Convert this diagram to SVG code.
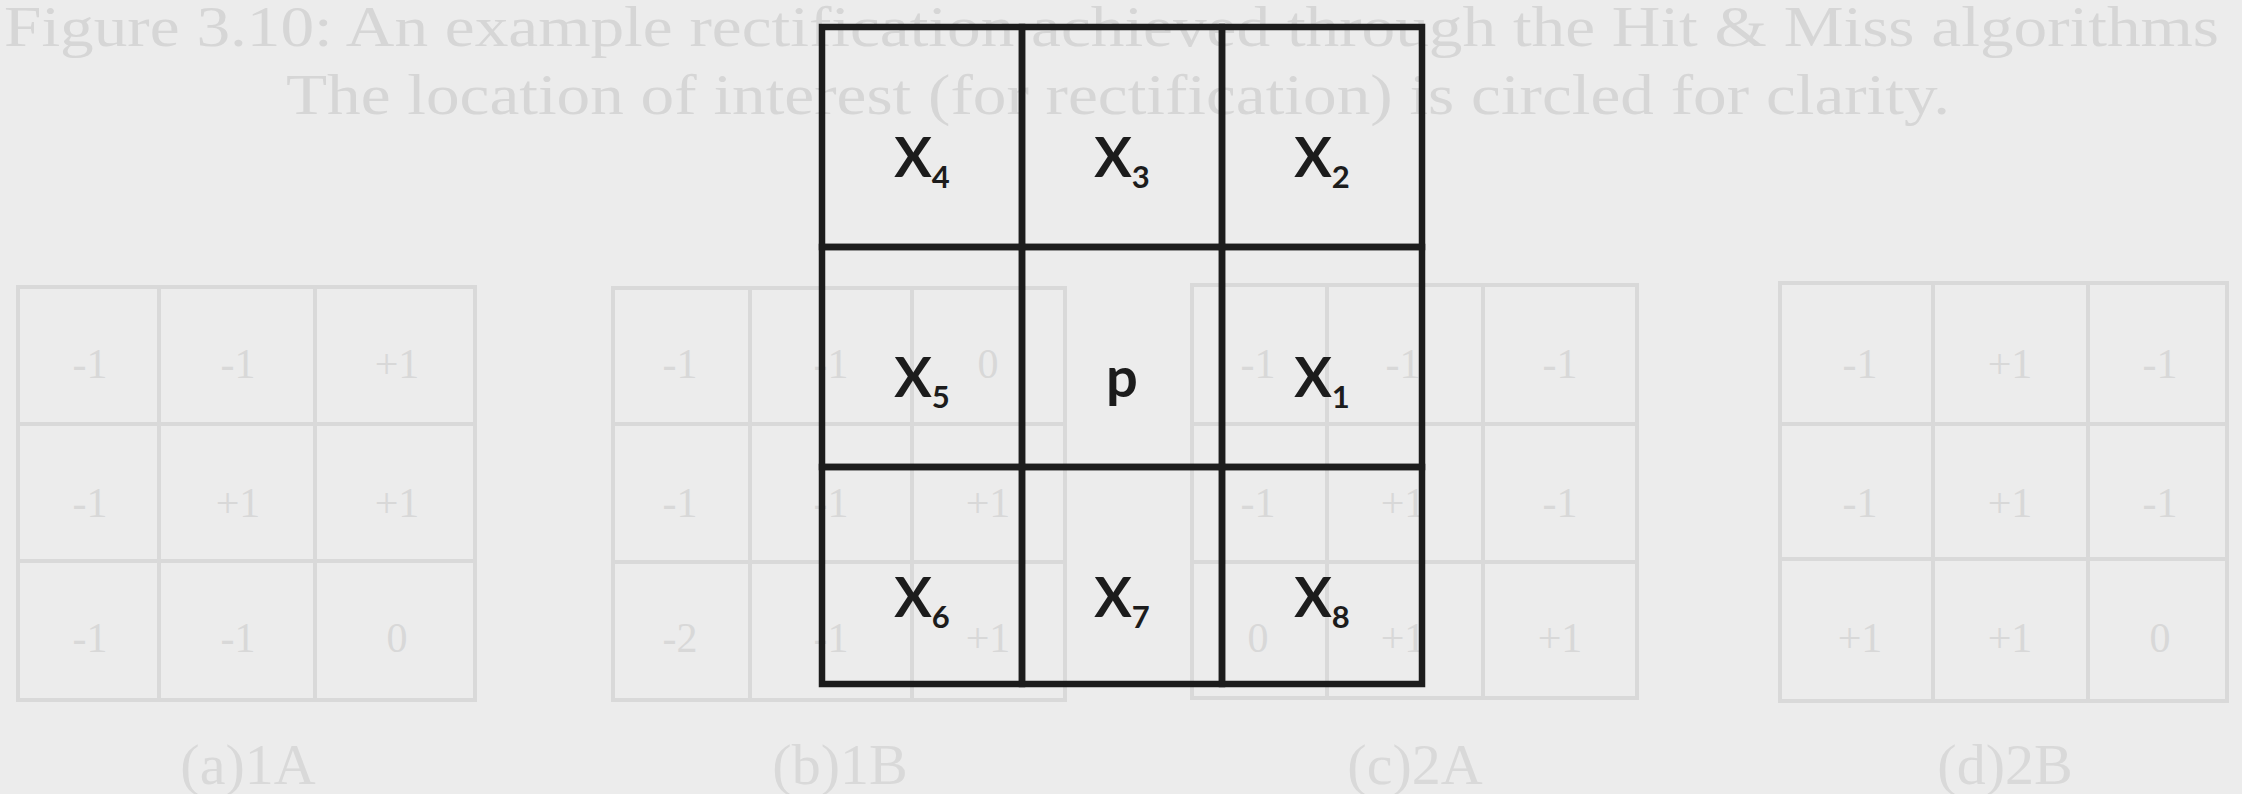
<svg xmlns="http://www.w3.org/2000/svg" width="2242" height="794" viewBox="0 0 2242 794">
  <style>
    .bg { fill: #ececec; }
    .cap { font-family: "Liberation Serif", serif; font-size: 56px; fill: #d6d6d6; }
    .fgrid { fill: none; stroke: #d9d9d9; stroke-width: 4; }
    .fnum { font-family: "Liberation Serif", serif; font-size: 42px; fill: #d8d8d8; text-anchor: middle; }
    .fcap { font-family: "Liberation Serif", serif; font-size: 58px; fill: #d9d9d9; text-anchor: middle; }
    .cell { fill: none; stroke: #1c1c1c; stroke-width: 6.5; }
    .lbl { font-family: Lato, "Open Sans", "Liberation Sans", sans-serif; font-weight: bold; font-size: 56px; fill: #1c1c1c; text-anchor: middle; }
    .sub { font-size: 31px; }
  </style>
  <rect class="bg" x="0" y="0" width="2242" height="794"/>

  <g id="faded-background">
    <text class="cap" x="4" y="46" textLength="2215" lengthAdjust="spacingAndGlyphs">Figure 3.10: An example rectification achieved through the Hit &amp; Miss algorithms</text>
    <text class="cap" x="286" y="114" textLength="1664" lengthAdjust="spacingAndGlyphs">The location of interest (for rectification) is circled for clarity.</text>

    <g id="grid-a">
      <rect class="fgrid" x="18" y="287" width="457" height="413"/>
      <line class="fgrid" x1="159" y1="287" x2="159" y2="700"/>
      <line class="fgrid" x1="315" y1="287" x2="315" y2="700"/>
      <line class="fgrid" x1="18" y1="424" x2="475" y2="424"/>
      <line class="fgrid" x1="18" y1="561" x2="475" y2="561"/>
      <text class="fnum" x="90" y="378">-1</text><text class="fnum" x="238" y="378">-1</text><text class="fnum" x="397" y="378">+1</text>
      <text class="fnum" x="90" y="517">-1</text><text class="fnum" x="238" y="517">+1</text><text class="fnum" x="397" y="517">+1</text>
      <text class="fnum" x="90" y="652">-1</text><text class="fnum" x="238" y="652">-1</text><text class="fnum" x="397" y="652">0</text>
      <text class="fcap" x="248" y="784">(a)1A</text>
    </g>

    <g id="grid-b">
      <rect class="fgrid" x="613" y="288" width="452" height="412"/>
      <line class="fgrid" x1="750" y1="288" x2="750" y2="700"/>
      <line class="fgrid" x1="912" y1="288" x2="912" y2="700"/>
      <line class="fgrid" x1="613" y1="424" x2="1065" y2="424"/>
      <line class="fgrid" x1="613" y1="562" x2="1065" y2="562"/>
      <text class="fnum" x="680" y="378">-1</text><text class="fnum" x="831" y="378">-1</text><text class="fnum" x="988" y="378">0</text>
      <text class="fnum" x="680" y="517">-1</text><text class="fnum" x="831" y="517">-1</text><text class="fnum" x="988" y="517">+1</text>
      <text class="fnum" x="680" y="652">-2</text><text class="fnum" x="831" y="652">-1</text><text class="fnum" x="988" y="652">+1</text>
      <text class="fcap" x="840" y="784">(b)1B</text>
    </g>

    <g id="grid-c">
      <rect class="fgrid" x="1192" y="285" width="445" height="413"/>
      <line class="fgrid" x1="1327" y1="285" x2="1327" y2="698"/>
      <line class="fgrid" x1="1483" y1="285" x2="1483" y2="698"/>
      <line class="fgrid" x1="1192" y1="424" x2="1637" y2="424"/>
      <line class="fgrid" x1="1192" y1="562" x2="1637" y2="562"/>
      <text class="fnum" x="1258" y="378">-1</text><text class="fnum" x="1403" y="378">-1</text><text class="fnum" x="1560" y="378">-1</text>
      <text class="fnum" x="1258" y="517">-1</text><text class="fnum" x="1403" y="517">+1</text><text class="fnum" x="1560" y="517">-1</text>
      <text class="fnum" x="1258" y="652">0</text><text class="fnum" x="1403" y="652">+1</text><text class="fnum" x="1560" y="652">+1</text>
      <text class="fcap" x="1415" y="784">(c)2A</text>
    </g>

    <g id="grid-d">
      <rect class="fgrid" x="1780" y="283" width="447" height="418"/>
      <line class="fgrid" x1="1933" y1="283" x2="1933" y2="701"/>
      <line class="fgrid" x1="2088" y1="283" x2="2088" y2="701"/>
      <line class="fgrid" x1="1780" y1="424" x2="2227" y2="424"/>
      <line class="fgrid" x1="1780" y1="559" x2="2227" y2="559"/>
      <text class="fnum" x="1860" y="378">-1</text><text class="fnum" x="2010" y="378">+1</text><text class="fnum" x="2160" y="378">-1</text>
      <text class="fnum" x="1860" y="517">-1</text><text class="fnum" x="2010" y="517">+1</text><text class="fnum" x="2160" y="517">-1</text>
      <text class="fnum" x="1860" y="652">+1</text><text class="fnum" x="2010" y="652">+1</text><text class="fnum" x="2160" y="652">0</text>
      <text class="fcap" x="2005" y="784">(d)2B</text>
    </g>
  </g>

  <g id="connectors"></g>

  <g id="cell-x4"><rect class="cell" x="822" y="27" width="200" height="220"/><text class="lbl" x="922" y="177">X<tspan class="sub" dy="11">4</tspan></text></g>
  <g id="cell-x3"><rect class="cell" x="1022" y="27" width="200" height="220"/><text class="lbl" x="1122" y="177">X<tspan class="sub" dy="11">3</tspan></text></g>
  <g id="cell-x2"><rect class="cell" x="1222" y="27" width="200" height="220"/><text class="lbl" x="1322" y="177">X<tspan class="sub" dy="11">2</tspan></text></g>
  <g id="cell-x5"><rect class="cell" x="822" y="247" width="200" height="220"/><text class="lbl" x="922" y="397">X<tspan class="sub" dy="11">5</tspan></text></g>
  <g id="cell-p"><rect class="cell" x="1022" y="247" width="200" height="220"/><text class="lbl" x="1122" y="397">p</text></g>
  <g id="cell-x1"><rect class="cell" x="1222" y="247" width="200" height="220"/><text class="lbl" x="1322" y="397">X<tspan class="sub" dy="11">1</tspan></text></g>
  <g id="cell-x6"><rect class="cell" x="822" y="467" width="200" height="217"/><text class="lbl" x="922" y="617">X<tspan class="sub" dy="11">6</tspan></text></g>
  <g id="cell-x7"><rect class="cell" x="1022" y="467" width="200" height="217"/><text class="lbl" x="1122" y="617">X<tspan class="sub" dy="11">7</tspan></text></g>
  <g id="cell-x8"><rect class="cell" x="1222" y="467" width="200" height="217"/><text class="lbl" x="1322" y="617">X<tspan class="sub" dy="11">8</tspan></text></g>
</svg>
